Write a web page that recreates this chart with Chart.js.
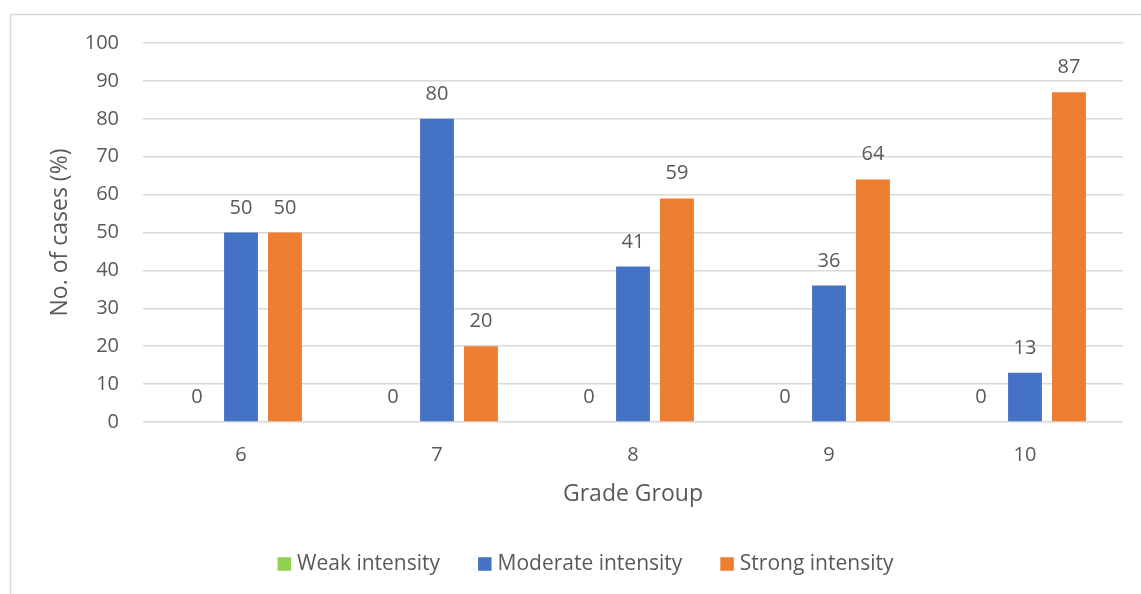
<!DOCTYPE html>
<html>
<head>
<meta charset="utf-8">
<script src="https://cdn.jsdelivr.net/npm/chart.js@4"></script>
<style>
  html, body { margin: 0; padding: 0; background: #fff; }
  #wrap { width: 1141px; height: 594px; position: relative; }
</style>
</head>
<body>
<div id="wrap"><canvas id="c" width="1141" height="594"></canvas></div>
<script>
const categories = ['6', '7', '8', '9', '10'];
const weakValues = [0, 0, 0, 0, 0];
const moderateValues = [50, 80, 41, 36, 13];
const strongValues = [50, 20, 59, 64, 87];
const seriesNames = ['Weak intensity', 'Moderate intensity', 'Strong intensity'];
const seriesColors = ['#92D050', '#4472C4', '#ED7D31'];
const yTicks = [0, 10, 20, 30, 40, 50, 60, 70, 80, 90, 100];

const FONT = '"Open Sans", "Noto Sans", sans-serif';
const TEXT = '#595959';

const borderPlugin = {
  id: 'outerBorder',
  beforeDraw(chart) {
    const ctx = chart.ctx;
    ctx.save();
    ctx.fillStyle = '#fff';
    ctx.fillRect(0, 0, chart.width, chart.height);
    ctx.strokeStyle = '#D9D9D9';
    ctx.lineWidth = 1.5;
    ctx.strokeRect(10.5, 14.5, chart.width + 20, chart.height + 20);
    ctx.restore();
  }
};

const labelPlugin = {
  id: 'valueLabels',
  afterDatasetsDraw(chart) {
    const ctx = chart.ctx;
    ctx.save();
    ctx.font = '20px ' + FONT;
    ctx.fillStyle = TEXT;
    ctx.textAlign = 'center';
    ctx.textBaseline = 'alphabetic';
    chart.data.datasets.forEach((ds, i) => {
      const meta = chart.getDatasetMeta(i);
      meta.data.forEach((el, j) => {
        ctx.fillText(String(ds.data[j]), el.x, el.y - 19);
      });
    });
    ctx.restore();
  }
};

const legendPlugin = {
  id: 'bottomLegend',
  afterDraw(chart) {
    const ctx = chart.ctx;
    ctx.save();
    ctx.font = '21px ' + FONT;
    const box = 13.5, gap = 6, spacing = 38;
    const items = chart.data.datasets.map(ds => ({ text: ds.label, color: ds.backgroundColor, w: ctx.measureText(ds.label).width }));
    let total = 0;
    items.forEach((it, i) => { total += box + gap + it.w + (i < items.length - 1 ? spacing : 0); });
    let x = 585.5 - total / 2;
    const cy = 564;
    ctx.textBaseline = 'middle';
    ctx.textAlign = 'left';
    items.forEach(it => {
      ctx.fillStyle = it.color;
      ctx.fillRect(x, cy - box / 2, box, box);
      x += box + gap;
      ctx.fillStyle = TEXT;
      ctx.fillText(it.text, x, cy);
      x += it.w + spacing;
    });
    ctx.restore();
  }
};

new Chart(document.getElementById('c'), {
  type: 'bar',
  data: {
    labels: categories,
    datasets: seriesNames.map((name, i) => ({
      label: name,
      data: [weakValues, moderateValues, strongValues][i],
      backgroundColor: seriesColors[i]
    }))
  },
  options: {
    responsive: false,
    animation: false,
    events: [],
    layout: { padding: { top: 43, right: 18, bottom: 64, left: 0 } },
    datasets: { bar: { categoryPercentage: 0.673, barPercentage: 0.77 } },
    plugins: {
      legend: { display: false },
      tooltip: { enabled: false }
    },
    scales: {
      x: {
        grid: { display: false },
        border: { display: false },
        ticks: { font: { family: FONT, size: 20 }, color: TEXT, padding: 13 },
        title: {
          display: true, text: 'Grade Group',
          font: { family: FONT, size: 23 }, color: TEXT,
          padding: { top: 0, bottom: 22 }
        },
        afterFit(scale) { scale.height = 108; }
      },
      y: {
        min: 0, max: 100,
        afterBuildTicks(scale) { scale.ticks = yTicks.map(v => ({ value: v })); },
        grid: { color: '#D9D9D9', drawTicks: false, lineWidth: 1.5 },
        border: { display: false },
        ticks: { font: { family: FONT, size: 20 }, color: TEXT, padding: 24 },
        title: {
          display: true, text: 'No. of cases (%)',
          font: { family: FONT, size: 23 }, color: TEXT,
          padding: { top: 46.5, bottom: 0 }
        },
        afterFit(scale) { scale.width = 143; }
      }
    }
  },
  plugins: [borderPlugin, labelPlugin, legendPlugin]
});
</script>
</body>
</html>
